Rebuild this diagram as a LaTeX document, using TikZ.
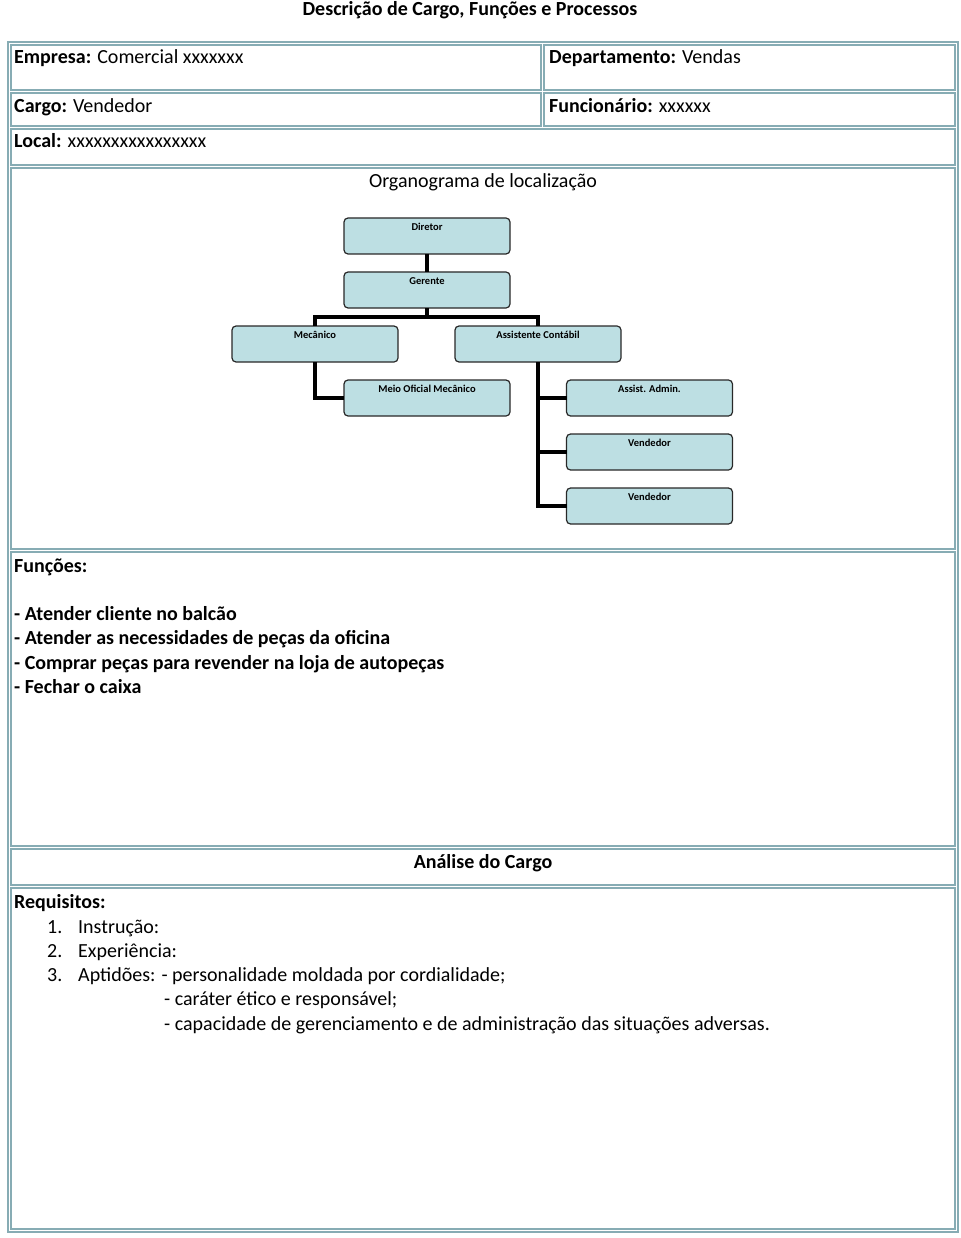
\documentclass[tikz,border=0pt]{standalone}
\usepackage{fontspec}
\setmainfont{Carlito}
\usetikzlibrary{positioning}
\definecolor{framecol}{RGB}{135,172,180}
\definecolor{unitfill}{RGB}{189,223,227}
\definecolor{unitline}{RGB}{40,40,40}

\begin{document}
\begin{tikzpicture}
  [x=1pt,y=-1pt,
   cell/.style={draw=framecol,line width=1.5pt},
   txt/.style={anchor=base west,inner sep=0pt,font=\fontsize{20}{24}\selectfont},
   head/.style={anchor=base,inner sep=0pt,font=\fontsize{20}{24}\selectfont},
   unit/.style={rectangle,rounded corners=4pt,draw=unitline,fill=unitfill,
                line width=1.2pt,minimum width=166pt,inner xsep=2pt,inner ysep=3pt,
                outer sep=0pt,text height=9.5pt,text depth=20.5pt,
                font=\fontsize{10.5}{12}\selectfont\bfseries},
   link/.style={line width=3.5pt}]
  \useasboundingbox (0,0) rectangle (960,1238);

  % table frame
  \draw[draw=framecol,line width=2pt] (8,42) rectangle (958,1232);
  \draw[cell] (11,45)  rectangle (541,90);
  \draw[cell] (544,45) rectangle (955,90);
  \draw[cell] (11,93)  rectangle (541,126);
  \draw[cell] (544,93) rectangle (955,126);
  \draw[cell] (11,129) rectangle (955,165);
  \draw[cell] (11,168) rectangle (955,549);
  \draw[cell] (11,552) rectangle (955,846);
  \draw[cell] (11,849) rectangle (955,885);
  \draw[cell] (11,888) rectangle (955,1229);

  % header texts
  \node[head,font=\fontsize{20}{24}\selectfont\bfseries] (title) at (470,16)
       {Descrição de Cargo, Funções e Processos};
  \node[txt] (empresa) at (14,64) {\textbf{Empresa:} Comercial xxxxxxx};
  \node[txt] (depto)   at (549,64) {\textbf{Departamento:} Vendas};
  \node[txt] (cargo)   at (14,113) {\textbf{Cargo:} Vendedor};
  \node[txt] (func)    at (549,113) {\textbf{Funcionário:} xxxxxx};
  \node[txt] (local)   at (14,148) {\textbf{Local:} xxxxxxxxxxxxxxxx};
  \node[head] (orgtitle) at (483,188) {Organograma de localização};

  % organogram
  \node[unit] (diretor)    at (427,236)                              {Diretor};
  \node[unit] (gerente)    [below=18pt of diretor]                   {Gerente};
  \node[unit] (mecanico)   [below=18pt of gerente,xshift=-112pt]     {Mecânico};
  \node[unit] (assistente) [below=18pt of gerente,xshift=111pt]      {Assistente Contábil};
  \node[unit] (meio)       [below=18pt of mecanico,xshift=112pt]     {Meio Oficial Mecânico};
  \node[unit] (admin)      [below=18pt of assistente,xshift=111.5pt] {Assist. Admin.};
  \node[unit] (vend1)      [below=18pt of admin]                     {Vendedor};
  \node[unit] (vend2)      [below=18pt of vend1]                     {Vendedor};
  \draw[link] (diretor) -- (gerente);
  \draw[link] (gerente.south) -- ++(0,9);
  \draw[link] (mecanico.north) -- ++(0,-9) -| (assistente.north);
  \draw[link] (mecanico.south) |- (meio.west);
  \draw[link] (assistente.south) |- (admin.west);
  \draw[link] (assistente.south) |- (vend1.west);
  \draw[link] (assistente.south) |- (vend2.west);

  % functions
  \node[txt,font=\fontsize{20}{24}\selectfont\bfseries] (funcoes) at (14,572) {Funções:};
  \node[txt,font=\fontsize{20}{24}\selectfont\bfseries] (f1) at (14,620) {- Atender cliente no balcão};
  \node[txt,font=\fontsize{20}{24}\selectfont\bfseries] (f2) at (14,644) {- Atender as necessidades de peças da oficina};
  \node[txt,font=\fontsize{20}{24}\selectfont\bfseries] (f3) at (14,669) {- Comprar peças para revender na loja de autopeças};
  \node[txt,font=\fontsize{20}{24}\selectfont\bfseries] (f4) at (14,693) {- Fechar o caixa};

  % analysis
  \node[head,font=\fontsize{20}{24}\selectfont\bfseries] (analise) at (483,868) {Análise do Cargo};
  \node[txt,font=\fontsize{20}{24}\selectfont\bfseries] (requisitos) at (14,908) {Requisitos:};
  \node[txt] (r1) at (47,933)  {\makebox[31pt][l]{1.}Instrução:};
  \node[txt] (r2) at (47,957)  {\makebox[31pt][l]{2.}Experiência:};
  \node[txt] (r3) at (47,981)  {\makebox[31pt][l]{3.}Aptidões: - personalidade moldada por cordialidade;};
  \node[txt] (r4) at (164,1005) {- caráter ético e responsável;};
  \node[txt] (r5) at (164,1030) {- capacidade de gerenciamento e de administração das situações adversas.};
\end{tikzpicture}
\end{document}
